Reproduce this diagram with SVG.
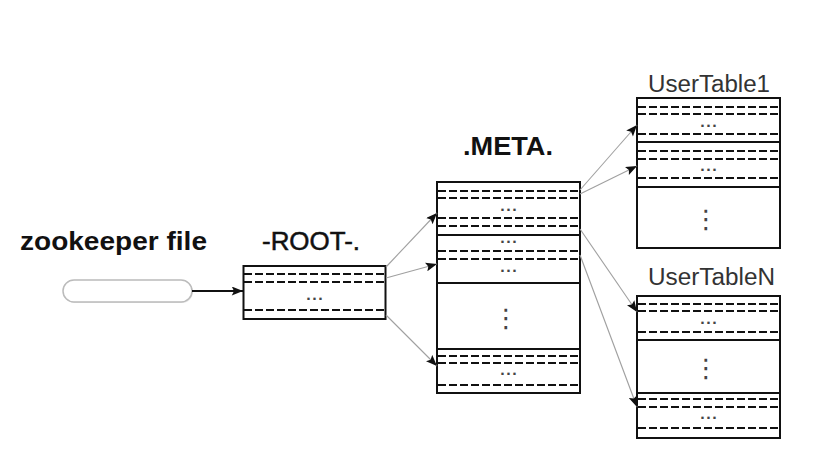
<svg xmlns="http://www.w3.org/2000/svg" width="818" height="467" viewBox="0 0 818 467">
<defs>
<marker id="ah" viewBox="0 0 10 8" refX="10" refY="4" markerWidth="12" markerHeight="9" markerUnits="userSpaceOnUse" orient="auto">
<path d="M0,0 L10,4 L0,8 L2,4 Z" fill="#111"/>
</marker>
<style>
.box{fill:#fff;stroke:#111;stroke-width:2}
.sol{stroke:#111;stroke-width:1.8}
.dash{stroke:#111;stroke-width:1.8;stroke-dasharray:8 3}
.dots{font-family:"DejaVu Sans",sans-serif;font-size:13px;font-weight:bold;fill:#444;text-anchor:middle;letter-spacing:1px}
.vd{font-family:"DejaVu Sans",sans-serif;font-size:26px;fill:#444;text-anchor:middle}
.conn{stroke:#a0a0a0;stroke-width:1.1;fill:none}
.lbl{font-family:"Liberation Sans",Arial,sans-serif;fill:#111}
.tl{font-family:"Liberation Sans",Arial,sans-serif;fill:#333;font-size:23.5px}
</style>
</defs>
<rect width="818" height="467" fill="#fff"/>

<text class="lbl" x="20" y="250" font-size="26" font-weight="bold" textLength="187" lengthAdjust="spacingAndGlyphs">zookeeper file</text>

<g id="zookeeper">
<rect x="64" y="281" width="129" height="22" rx="11" fill="#e8e8e8"/>
<rect x="63" y="280" width="129" height="22" rx="11" fill="#fff" stroke="#bbb" stroke-width="1.5"/>
</g>

<g id="root">
<text class="lbl" x="262" y="250" font-size="25" textLength="98" lengthAdjust="spacingAndGlyphs" stroke="#111" stroke-width="0.5">-ROOT-.</text>
<rect class="box" x="243.5" y="266" width="142" height="53"/>
<line class="dash" x1="244" y1="274" x2="385" y2="274"/>
<line class="dash" x1="244" y1="282" x2="385" y2="282"/>
<text class="dots" x="315" y="300">...</text>
<line class="dash" x1="244" y1="310" x2="385" y2="310"/>
</g>

<g id="meta">
<text class="lbl" x="463" y="155" font-size="26" font-weight="bold" textLength="90" lengthAdjust="spacingAndGlyphs">.META.</text>
<rect class="box" x="437" y="182" width="143" height="211"/>
<line class="dash" x1="438" y1="191" x2="579" y2="191"/>
<line class="dash" x1="438" y1="198" x2="579" y2="198"/>
<text class="dots" x="509" y="211">...</text>
<line class="dash" x1="438" y1="218" x2="579" y2="218"/>
<line class="dash" x1="438" y1="226" x2="579" y2="226"/>
<line class="sol" x1="437" y1="235" x2="580" y2="235"/>
<text class="dots" x="509" y="243">...</text>
<line class="dash" x1="438" y1="251" x2="579" y2="251"/>
<line class="dash" x1="438" y1="259" x2="579" y2="259"/>
<text class="dots" x="509" y="272">...</text>
<line class="sol" x1="437" y1="283" x2="580" y2="283"/>
<text class="vd" x="506" y="327">⋮</text>
<line class="sol" x1="437" y1="349" x2="580" y2="349"/>
<line class="dash" x1="438" y1="356" x2="579" y2="356"/>
<line class="dash" x1="438" y1="363" x2="579" y2="363"/>
<text class="dots" x="509" y="375">...</text>
<line class="dash" x1="438" y1="385" x2="579" y2="385"/>
</g>

<g id="usertable1">
<text class="tl" x="648" y="92" textLength="122" lengthAdjust="spacingAndGlyphs">UserTable1</text>
<rect class="box" x="637" y="98" width="143" height="150"/>
<line class="dash" x1="638" y1="107" x2="779" y2="107"/>
<line class="dash" x1="638" y1="114" x2="779" y2="114"/>
<text class="dots" x="709" y="127">...</text>
<line class="dash" x1="638" y1="134" x2="779" y2="134"/>
<line class="sol" x1="637" y1="142" x2="780" y2="142"/>
<line class="dash" x1="638" y1="151" x2="779" y2="151"/>
<line class="dash" x1="638" y1="159" x2="779" y2="159"/>
<text class="dots" x="709" y="171">...</text>
<line class="dash" x1="638" y1="178" x2="779" y2="178"/>
<line class="sol" x1="637" y1="187" x2="780" y2="187"/>
<text class="vd" x="706" y="228">⋮</text>
</g>

<g id="usertablen">
<text class="tl" x="648" y="285" textLength="127" lengthAdjust="spacingAndGlyphs">UserTableN</text>
<rect class="box" x="637" y="296" width="143" height="142"/>
<line class="dash" x1="638" y1="304" x2="779" y2="304"/>
<line class="dash" x1="638" y1="311" x2="779" y2="311"/>
<text class="dots" x="709" y="324">...</text>
<line class="dash" x1="638" y1="332" x2="779" y2="332"/>
<line class="sol" x1="637" y1="340" x2="780" y2="340"/>
<text class="vd" x="706" y="377">⋮</text>
<line class="sol" x1="637" y1="393" x2="780" y2="393"/>
<line class="dash" x1="638" y1="399" x2="779" y2="399"/>
<line class="dash" x1="638" y1="407" x2="779" y2="407"/>
<text class="dots" x="709" y="419">...</text>
<line class="dash" x1="638" y1="428" x2="779" y2="428"/>
</g>

<g id="connectors">
<line x1="192" y1="291" x2="243" y2="291" stroke="#111" stroke-width="1.8" marker-end="url(#ah)"/>
<line class="conn" x1="386" y1="267" x2="437" y2="213" marker-end="url(#ah)"/>
<line class="conn" x1="386" y1="278" x2="437" y2="264" marker-end="url(#ah)"/>
<line class="conn" x1="386" y1="315" x2="437" y2="366" marker-end="url(#ah)"/>
<line class="conn" x1="580" y1="190" x2="637" y2="125" marker-end="url(#ah)"/>
<line class="conn" x1="580" y1="194" x2="637" y2="166" marker-end="url(#ah)"/>
<line class="conn" x1="580" y1="229" x2="637" y2="312" marker-end="url(#ah)"/>
<line class="conn" x1="580" y1="255" x2="637" y2="407" marker-end="url(#ah)"/>
</g>
</svg>
